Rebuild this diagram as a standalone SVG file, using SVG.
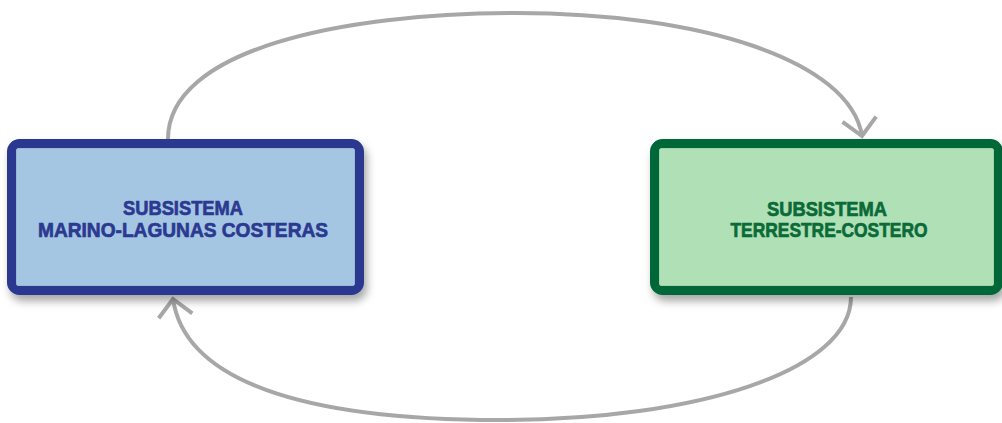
<svg xmlns="http://www.w3.org/2000/svg" width="1002" height="423" viewBox="0 0 1002 423">
<defs>
<filter id="sh" x="-10%" y="-10%" width="125%" height="135%">
<feDropShadow dx="3" dy="6" stdDeviation="4" flood-color="#000" flood-opacity="0.35"/>
</filter>
<marker id="arr" markerUnits="userSpaceOnUse" markerWidth="40" markerHeight="40" viewBox="-20 -20 40 40" refX="0" refY="0" orient="auto" overflow="visible">
<path d="M-17,-17 L0,0 L-17,17" fill="none" stroke="#a7a7a7" stroke-width="4"/>
</marker>
<style>
.conn{fill:none;stroke:#a7a7a7;stroke-width:4;marker-end:url(#arr)}
.lbl{font-family:"Liberation Sans",Arial,sans-serif;font-weight:bold;font-size:21px;text-anchor:middle;stroke-width:0.7}
.blue{fill:#2b3990;stroke:#2b3990}
.green{fill:#0a6a38;stroke:#0a6a38}
</style>
</defs>
<rect width="1002" height="423" fill="#ffffff"/>
<g id="connectors">
<path class="conn" d="M168,139 C168,50 340,13 516,13 C700,13 850,60 862,136"/>
<path class="conn" d="M851,297 C851,370 700,420 500,420 C300,420 185,380 173,299"/>
</g>
<g id="node-marino">
<rect x="11.5" y="143.5" width="348" height="147" rx="8" fill="#a4c6e3" stroke="#2b3990" stroke-width="9" filter="url(#sh)"/>
<rect x="16.5" y="148.5" width="338" height="137" rx="2" fill="none" stroke="#97b9d6" stroke-width="1"/>
<text class="lbl blue" x="183" y="215" textLength="120" lengthAdjust="spacingAndGlyphs">SUBSISTEMA</text>
<text class="lbl blue" x="183" y="237" textLength="290" lengthAdjust="spacingAndGlyphs">MARINO-LAGUNAS COSTERAS</text>
</g>
<g id="node-terrestre">
<rect x="654.5" y="143.5" width="344" height="147" rx="8" fill="#b0e0b5" stroke="#006838" stroke-width="9" filter="url(#sh)"/>
<rect x="659.5" y="148.5" width="334" height="137" rx="2" fill="none" stroke="#a2d3a7" stroke-width="1"/>
<text class="lbl green" x="827" y="216" textLength="120" lengthAdjust="spacingAndGlyphs">SUBSISTEMA</text>
<text class="lbl green" x="829" y="237" textLength="197" lengthAdjust="spacingAndGlyphs">TERRESTRE-COSTERO</text>
</g>
</svg>
